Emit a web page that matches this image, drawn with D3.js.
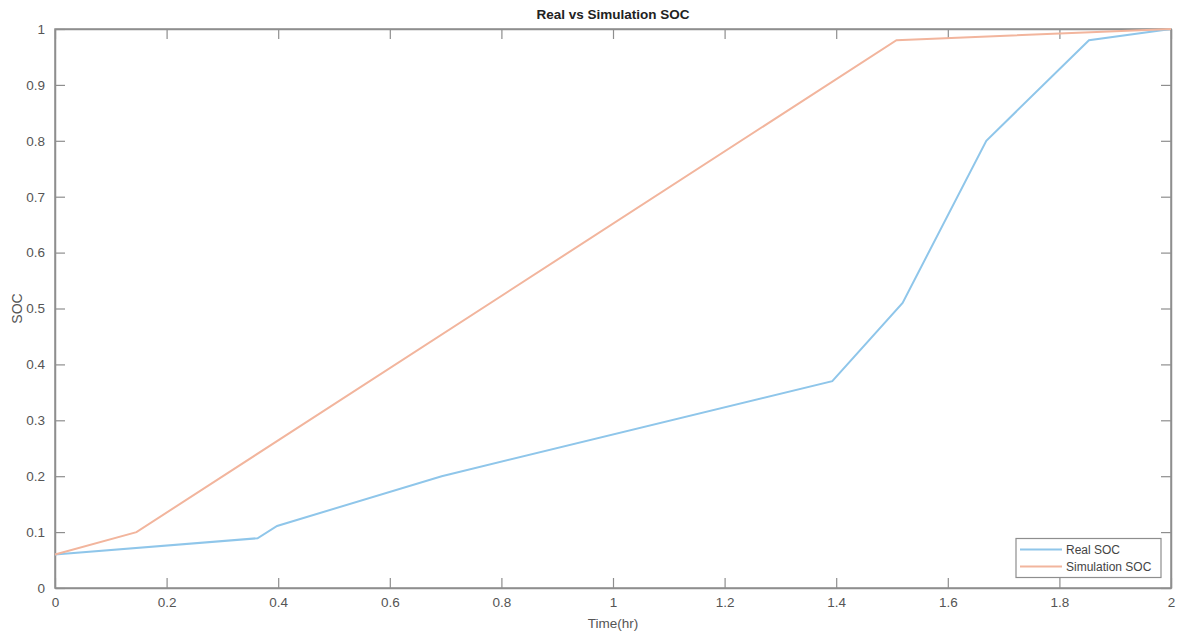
<!DOCTYPE html>
<html><head><meta charset="utf-8">
<script src="https://cdn.jsdelivr.net/npm/d3@7"></script>
<style>
body{margin:0;background:#fff;}
svg{display:block;font-family:"Liberation Sans",Arial,sans-serif;}
</style></head>
<body>
<svg id="c" width="1179" height="637"></svg>
<script>
const realTime = [0, 0.363, 0.398, 0.693, 1.393, 1.519, 1.669, 1.853, 2];
const realSOC  = [0.06, 0.089, 0.111, 0.20, 0.37, 0.51, 0.80, 0.98, 1.0];
const simTime  = [0, 0.146, 1.508, 2];
const simSOC   = [0.06, 0.10, 0.98, 1.0];
const xTicks = [0,0.2,0.4,0.6,0.8,1,1.2,1.4,1.6,1.8,2];
const yTicks = [0,0.1,0.2,0.3,0.4,0.5,0.6,0.7,0.8,0.9,1];
const seriesNames = ["Real SOC","Simulation SOC"];
const colors = ["#8fc6ea","#f2b59d"];

const svg = d3.select("#c");
const L=55, R=1171, T=29, B=588;
const x = d3.scaleLinear().domain([0,2]).range([L,R]);
const y = d3.scaleLinear().domain([0,1]).range([B,T]);
const axisCol="#8e8e8e", textCol="#555";

svg.append("rect").attr("x",L).attr("y",T).attr("width",R-L).attr("height",B-T)
  .attr("fill","none").attr("stroke",axisCol).attr("stroke-width",1.5);

const fmt = d => d3.format("~g")(d);
const gx = svg.append("g").attr("transform",`translate(0,${B})`)
  .call(d3.axisBottom(x).tickValues(xTicks).tickSizeInner(-10).tickSizeOuter(0).tickPadding(14).tickFormat(fmt));
const gy = svg.append("g").attr("transform",`translate(${L},0)`)
  .call(d3.axisLeft(y).tickValues(yTicks).tickSizeInner(-10).tickSizeOuter(0).tickPadding(14).tickFormat(fmt));
const gt = svg.append("g").attr("transform",`translate(0,${T})`)
  .call(d3.axisTop(x).tickValues(xTicks).tickSizeInner(-10).tickSizeOuter(0).tickFormat(""));
const gr = svg.append("g").attr("transform",`translate(${R},0)`)
  .call(d3.axisRight(y).tickValues(yTicks).tickSizeInner(-10).tickSizeOuter(0).tickFormat(""));
[gx,gy,gt,gr].forEach(g=>{
  g.select(".domain").attr("stroke",axisCol).attr("stroke-width",1.5);
  g.selectAll(".tick line").attr("stroke",axisCol).attr("stroke-width",1.2);
  g.selectAll(".tick text").attr("fill",textCol).attr("font-size",13.5).attr("font-family","Liberation Sans, Arial, sans-serif");
});
gx.selectAll(".tick text").attr("dy","0.4em");
gy.selectAll(".tick text").attr("dx","4");

const line = d3.line().x(d=>x(d[0])).y(d=>y(d[1]));
const realData = realTime.map((t,i)=>[t,realSOC[i]]);
const simData = simTime.map((t,i)=>[t,simSOC[i]]);
svg.append("path").datum(realData).attr("d",line).attr("fill","none").attr("stroke",colors[0]).attr("stroke-width",2);
svg.append("path").datum(simData).attr("d",line).attr("fill","none").attr("stroke",colors[1]).attr("stroke-width",2);

svg.append("text").attr("x",(L+R)/2).attr("y",19).attr("text-anchor","middle")
  .attr("font-weight","bold").attr("font-size",13.5).attr("fill","#222").text("Real vs Simulation SOC");
svg.append("text").attr("x",(L+R)/2).attr("y",628).attr("text-anchor","middle")
  .attr("font-size",13.5).attr("fill",textCol).text("Time(hr)");
svg.append("text").attr("transform",`translate(22,${(T+B)/2}) rotate(-90)`).attr("text-anchor","middle")
  .attr("font-size",14).attr("fill",textCol).text("SOC");

const lg = svg.append("g");
lg.append("rect").attr("x",1016).attr("y",538.5).attr("width",145).attr("height",39)
  .attr("fill","#fff").attr("stroke",axisCol).attr("stroke-width",1.2);
seriesNames.forEach((n,i)=>{
  const yy = 549.5 + i*17;
  lg.append("line").attr("x1",1020).attr("x2",1062).attr("y1",yy).attr("y2",yy)
    .attr("stroke",colors[i]).attr("stroke-width",2);
  lg.append("text").attr("x",1066).attr("y",yy+4).attr("font-size",12).attr("fill","#444").text(n);
});
</script>
</body></html>
